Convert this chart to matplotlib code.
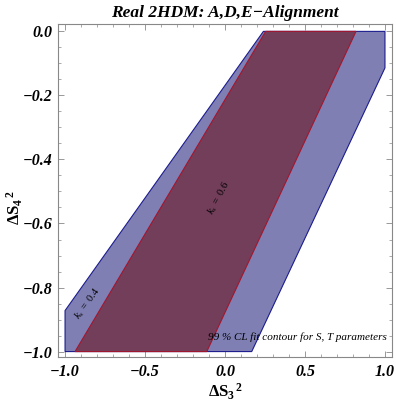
#!/usr/bin/env python3
"""Real 2HDM A,D,E-alignment: allowed (dS3^2, dS4^2) regions for two k_s values."""

import matplotlib
matplotlib.use("Agg")
import matplotlib.pyplot as plt
import matplotlib.ticker as ticker

plt.rcParams["font.family"] = ["Liberation Serif", "DejaVu Serif"]
plt.rcParams["mathtext.fontset"] = "custom"
plt.rcParams["mathtext.rm"] = "Liberation Serif"
plt.rcParams["mathtext.it"] = "Liberation Serif:italic"
plt.rcParams["mathtext.bf"] = "Liberation Serif:bold"

# region for k_s = 0.4 (vertices)
ks04_x = [0.24, 1.0, 1.0, 0.167, -1.0, -1.0]
ks04_y = [0.0, 0.0, -0.114, -1.0, -1.0, -0.872]

# region for k_s = 0.6
ks06_x = [0.254, 0.819, -0.114, -0.9375]
ks06_y = [0.0, 0.0, -1.0, -1.0]

x_ticks = [-1.0, -0.5, 0.0, 0.5, 1.0]
y_ticks = [0.0, -0.2, -0.4, -0.6, -0.8, -1.0]

BLUE_FILL = "#7f7fb3"
BLUE_EDGE = "#1c1c8e"
RED_FILL = "#723e5a"
RED_EDGE = "#a3162e"

fig = plt.figure(figsize=(3.96, 4.03), dpi=100)
ax = fig.add_axes([0.1465, 0.1141, 0.8434, 0.8263])

ax.fill(ks04_x, ks04_y, facecolor=BLUE_FILL, edgecolor=BLUE_EDGE, linewidth=0.8, zorder=2)
ax.fill(ks06_x, ks06_y, facecolor=RED_FILL, edgecolor=RED_EDGE, linewidth=0.8, zorder=3)

ax.text(-0.86, -0.85, r"$k_s\ =\ 0.4$", rotation=54, ha="center", va="center",
        fontsize=7.5, zorder=4)
ax.text(-0.035, -0.52, r"$k_s\ =\ 0.6$", rotation=62, ha="center", va="center",
        fontsize=7.5, zorder=4)
ax.text(0.45, -0.955, "99 % CL fit contour for S, T parameters", style="italic",
        ha="center", va="center", fontsize=8, zorder=4)

ax.set_xlim(-1.044, 1.044)
ax.set_ylim(-1.017, 0.023)

ax.xaxis.set_major_locator(ticker.FixedLocator(x_ticks))
ax.yaxis.set_major_locator(ticker.FixedLocator(y_ticks))
ax.xaxis.set_minor_locator(ticker.MultipleLocator(0.1))
ax.yaxis.set_minor_locator(ticker.MultipleLocator(0.05))
ax.xaxis.set_major_formatter(ticker.FuncFormatter(lambda v, p: f"{v:.1f}".replace("-", "\u2212")))
ax.yaxis.set_major_formatter(ticker.FuncFormatter(lambda v, p: f"{v:.1f}".replace("-", "\u2212")))

ax.tick_params(which="both", direction="in", top=True, right=True, color="#888888")
ax.tick_params(which="major", length=4, width=0.6, labelsize=11.5, pad=5)
ax.tick_params(axis="y", which="major", pad=4)
ax.tick_params(which="minor", length=2, width=0.5)
for lab in ax.get_xticklabels() + ax.get_yticklabels():
    lab.set_fontweight("bold")
    lab.set_fontstyle("italic")

for sp in ax.spines.values():
    sp.set_color("#888888")
    sp.set_linewidth(0.8)

ax.set_xlabel(r"$\mathbf{\Delta S_3}^{\mathbf{\,2}}$", fontsize=12)
ax.set_ylabel(r"$\mathbf{\Delta S_4}^{\mathbf{\,2}}$", fontsize=12)
ax.xaxis.set_label_coords(0.5, -0.075)
ax.yaxis.set_label_coords(-0.1, 0.45)
ax.set_title("Real 2HDM: A,D,E\u2212Alignment", fontsize=12.5, fontweight="bold",
             style="italic", pad=5)

fig.savefig("out.png", dpi=100, facecolor="white")
